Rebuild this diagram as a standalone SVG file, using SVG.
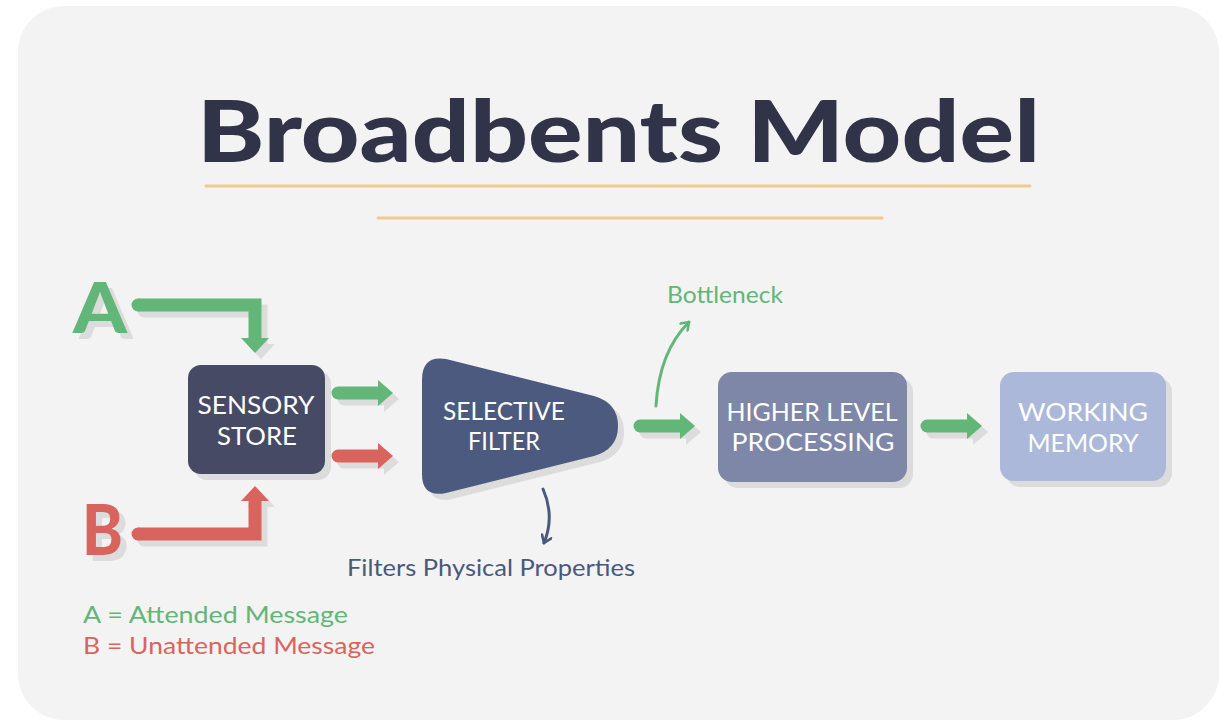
<svg xmlns="http://www.w3.org/2000/svg" xmlns:xlink="http://www.w3.org/1999/xlink" width="1225" height="721" viewBox="0 0 1225 721">
  <style>
    .card { fill: #f3f3f3; }
    .title { font-family: Lato, "Liberation Sans", sans-serif; font-weight: 900; font-size: 86px; fill: #313349; }
    .rule { stroke: #efc992; stroke-width: 3; stroke-linecap: round; }
    .label { font-family: Lato, "Open Sans", "Liberation Sans", sans-serif; font-size: 25px; fill: #ffffff; text-anchor: middle; }
    .note { font-family: Lato, "Open Sans", "Liberation Sans", sans-serif; font-size: 24px; }
    .big { font-family: Lato, "Liberation Sans", sans-serif; font-weight: 900; font-size: 70px; filter: url(#dropShadow); }
    .shadow { fill: #dcdcdc; stroke: #dcdcdc; }
    .green { fill: #62b677; stroke: #62b677; }
    .red { fill: #d9645d; stroke: #d9645d; }
    .curve { fill: none; stroke-width: 3; stroke-linecap: round; stroke-linejoin: round; }
  </style>
  <defs>
    <!-- flat grey drop shadow offset down-right -->
    <filter id="dropShadow" x="-20%" y="-20%" width="160%" height="160%">
      <feFlood flood-color="#dcdcdc" result="grey"/>
      <feComposite in="grey" in2="SourceAlpha" operator="in" result="tint"/>
      <feOffset in="tint" dx="6" dy="6" result="offset"/>
      <feMerge>
        <feMergeNode in="offset"/>
        <feMergeNode in="SourceGraphic"/>
      </feMerge>
    </filter>
    <!-- thick arrow shapes: bar drawn as stroke, head as filled triangle -->
    <g id="arrowA" stroke-width="13" stroke-linecap="butt" stroke-linejoin="miter">
      <path d="M138,305 H255 V339" fill="none"/>
      <path d="M241,338 H269 L255,353 Z" stroke="none"/>
      <circle cx="138" cy="305" r="6.5" stroke="none"/>
    </g>
    <g id="arrowB" stroke-width="13" stroke-linecap="butt" stroke-linejoin="miter">
      <path d="M138,534 H255 V500" fill="none"/>
      <path d="M241,501 H269 L255,486 Z" stroke="none"/>
      <circle cx="138" cy="534" r="6.5" stroke="none"/>
    </g>
    <g id="shortArrow" stroke-width="13">
      <path d="M0,0 H42" fill="none" stroke-linecap="round"/>
      <path d="M40,-13 L55,0 L40,13 Z" stroke="none"/>
    </g>
    <marker id="chevGreen" viewBox="0 0 12 12" refX="9" refY="6" markerWidth="12" markerHeight="12" markerUnits="userSpaceOnUse" orient="auto">
      <path d="M2,1 L9,6 L2,11" fill="none" stroke="#62b677" stroke-width="2.6" stroke-linecap="round" stroke-linejoin="round"/>
    </marker>
    <marker id="chevNavy" viewBox="0 0 12 12" refX="9" refY="6" markerWidth="12" markerHeight="12" markerUnits="userSpaceOnUse" orient="auto">
      <path d="M2,1 L9,6 L2,11" fill="none" stroke="#4a587b" stroke-width="2.6" stroke-linecap="round" stroke-linejoin="round"/>
    </marker>
    <path id="filterShape" d="M422,380 Q422,355 446,359 L594,396 Q618,403 618,426 Q618,449 594,456 L446,493 Q422,498 422,474 Z"/>
  </defs>

  <rect x="0" y="0" width="1225" height="721" fill="#ffffff"/>
  <rect class="card" x="18" y="6" width="1201" height="714" rx="46" ry="46"/>

  <g id="title">
    <text class="title" x="197" y="162" textLength="843" lengthAdjust="spacingAndGlyphs">Broadbents Model</text>
    <line class="rule" x1="206" y1="186" x2="1030" y2="186"/>
    <line class="rule" x1="378" y1="218" x2="882" y2="218"/>
  </g>

  <g id="input-a">
    <text class="big" x="73" y="333" fill="#62b677" textLength="54" lengthAdjust="spacingAndGlyphs">A</text>
  </g>
  <g id="input-b">
    <text class="big" x="82" y="555" fill="#d9645d" textLength="41" lengthAdjust="spacingAndGlyphs">B</text>
  </g>

  <g id="connectors">
    <use xlink:href="#arrowA" class="shadow" transform="translate(6,6)"/>
    <use xlink:href="#arrowA" class="green"/>
    <use xlink:href="#arrowB" class="shadow" transform="translate(6,6)"/>
    <use xlink:href="#arrowB" class="red"/>

    <use xlink:href="#shortArrow" class="shadow" transform="translate(344,399)"/>
    <use xlink:href="#shortArrow" class="green" transform="translate(338,393)"/>
    <use xlink:href="#shortArrow" class="shadow" transform="translate(344,462)"/>
    <use xlink:href="#shortArrow" class="red" transform="translate(338,456)"/>

    <use xlink:href="#shortArrow" class="shadow" transform="translate(646,432)"/>
    <use xlink:href="#shortArrow" class="green" transform="translate(640,426)"/>
    <use xlink:href="#shortArrow" class="shadow" transform="translate(933,432)"/>
    <use xlink:href="#shortArrow" class="green" transform="translate(927,426)"/>

    <path class="curve" d="M656,406 Q659,352 689,322" stroke="#62b677" marker-end="url(#chevGreen)"/>
    <path class="curve" d="M543,489 Q555,516 544,543" stroke="#4a587b" marker-end="url(#chevNavy)"/>
  </g>

  <g id="sensory-store">
    <rect x="194" y="371" width="137" height="109" rx="13" fill="#dcdcdc"/>
    <rect x="188" y="365" width="137" height="109" rx="13" fill="#474a64"/>
    <text class="label" x="256" y="414" textLength="117" lengthAdjust="spacingAndGlyphs">SENSORY</text>
    <text class="label" x="257" y="445" textLength="80" lengthAdjust="spacingAndGlyphs">STORE</text>
  </g>

  <g id="selective-filter">
    <use xlink:href="#filterShape" fill="#dcdcdc" transform="translate(6,6)"/>
    <use xlink:href="#filterShape" fill="#4b5a7e"/>
    <text class="label" x="504" y="420" textLength="122" lengthAdjust="spacingAndGlyphs">SELECTIVE</text>
    <text class="label" x="504" y="450" textLength="72" lengthAdjust="spacingAndGlyphs">FILTER</text>
  </g>

  <g id="higher-level-processing">
    <rect x="724" y="378" width="189" height="110" rx="14" fill="#dcdcdc"/>
    <rect x="718" y="372" width="189" height="110" rx="14" fill="#7e87a8"/>
    <text class="label" x="812" y="421" textLength="171" lengthAdjust="spacingAndGlyphs">HIGHER LEVEL</text>
    <text class="label" x="813" y="451" textLength="163" lengthAdjust="spacingAndGlyphs">PROCESSING</text>
  </g>

  <g id="working-memory">
    <rect x="1006" y="378" width="166" height="109" rx="14" fill="#dcdcdc"/>
    <rect x="1000" y="372" width="166" height="109" rx="14" fill="#abb8d9"/>
    <text class="label" x="1083" y="421" textLength="130" lengthAdjust="spacingAndGlyphs">WORKING</text>
    <text class="label" x="1083" y="452" textLength="111" lengthAdjust="spacingAndGlyphs">MEMORY</text>
  </g>

  <g id="annotations">
    <text class="note" x="667" y="303" fill="#62b677" textLength="116" lengthAdjust="spacingAndGlyphs">Bottleneck</text>
    <text class="note" x="347" y="576" fill="#4a587b" textLength="288" lengthAdjust="spacingAndGlyphs">Filters Physical Properties</text>
  </g>

  <g id="legend">
    <text class="note" x="83" y="623" fill="#62b677" textLength="265" lengthAdjust="spacingAndGlyphs">A = Attended Message</text>
    <text class="note" x="83" y="654" fill="#d9645d" textLength="292" lengthAdjust="spacingAndGlyphs">B = Unattended Message</text>
  </g>
</svg>
